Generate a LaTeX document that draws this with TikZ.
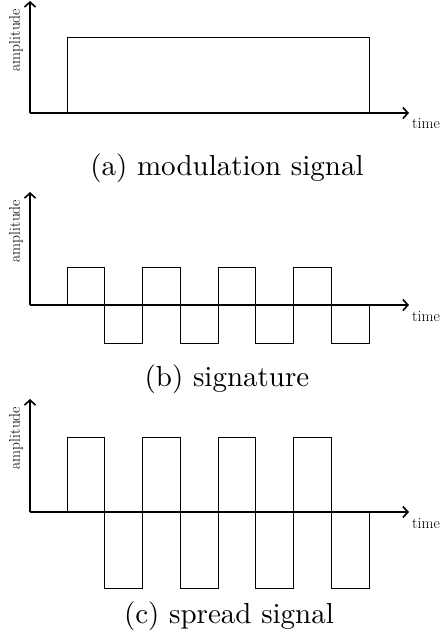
\documentclass[tikz,border=0pt]{standalone}
\usetikzlibrary{arrows.meta}
\begin{document}
\begin{tikzpicture}[x=1pt,y=-1pt,
  axis/.style={line width=2.4pt,-{Straight Barb[length=5pt,width=11pt,line width=1.6pt]}},
  sig/.style={line width=1pt,line join=miter},
  small/.style={font=\fontsize{15.5}{18}\selectfont,inner sep=0pt},
  capt/.style={font=\fontsize{10}{12}\selectfont,scale=2.9,inner sep=0pt,anchor=base}]
\useasboundingbox (0,0) rectangle (444,644);
% ---------- (a)
\coordinate (oa) at (30,113);
\coordinate (xa) at (409,113);
\coordinate (ya) at (30,1);
\draw[sig] (67,113) -- (67,38) -- (369,38) -- (369,113);
\draw[axis] (oa) -- (xa);
\draw[axis] (oa) -- (ya);
\node[small,anchor=base west] (ta) at (412,129) {time};
\node[small,rotate=90] (aa) at (16,40) {amplitude};
\node[capt] (ca) at (227,176) {(a) modulation signal};
% ---------- (b)
\coordinate (ob) at (30,305);
\coordinate (xb) at (409,305);
\coordinate (yb) at (30,192);
\draw[sig] (67,305) -- (67,267) -- (104.75,267) -- (104.75,343) -- (142.5,343)
  -- (142.5,267) -- (180.25,267) -- (180.25,343) -- (218,343)
  -- (218,267) -- (255.75,267) -- (255.75,343) -- (293.5,343)
  -- (293.5,267) -- (331.25,267) -- (331.25,343) -- (369,343) -- (369,305);
\draw[axis] (ob) -- (xb);
\draw[axis] (ob) -- (yb);
\node[small,anchor=base west] (tb) at (412,321) {time};
\node[small,rotate=90] (ab) at (16,231) {amplitude};
\node[capt] (cb) at (227,386) {(b) signature};
% ---------- (c)
\coordinate (oc) at (30,512);
\coordinate (xc) at (409,512);
\coordinate (yc) at (30,399);
\draw[sig] (67,512) -- (67,437) -- (104.75,437) -- (104.75,588) -- (142.5,588)
  -- (142.5,437) -- (180.25,437) -- (180.25,588) -- (218,588)
  -- (218,437) -- (255.75,437) -- (255.75,588) -- (293.5,588)
  -- (293.5,437) -- (331.25,437) -- (331.25,588) -- (369,588) -- (369,512);
\draw[axis] (oc) -- (xc);
\draw[axis] (oc) -- (yc);
\node[small,anchor=base west] (tc) at (412,528) {time};
\node[small,rotate=90] (ac) at (16,438) {amplitude};
\node[capt] (cc) at (229,623) {(c) spread signal};
\end{tikzpicture}
\end{document}
